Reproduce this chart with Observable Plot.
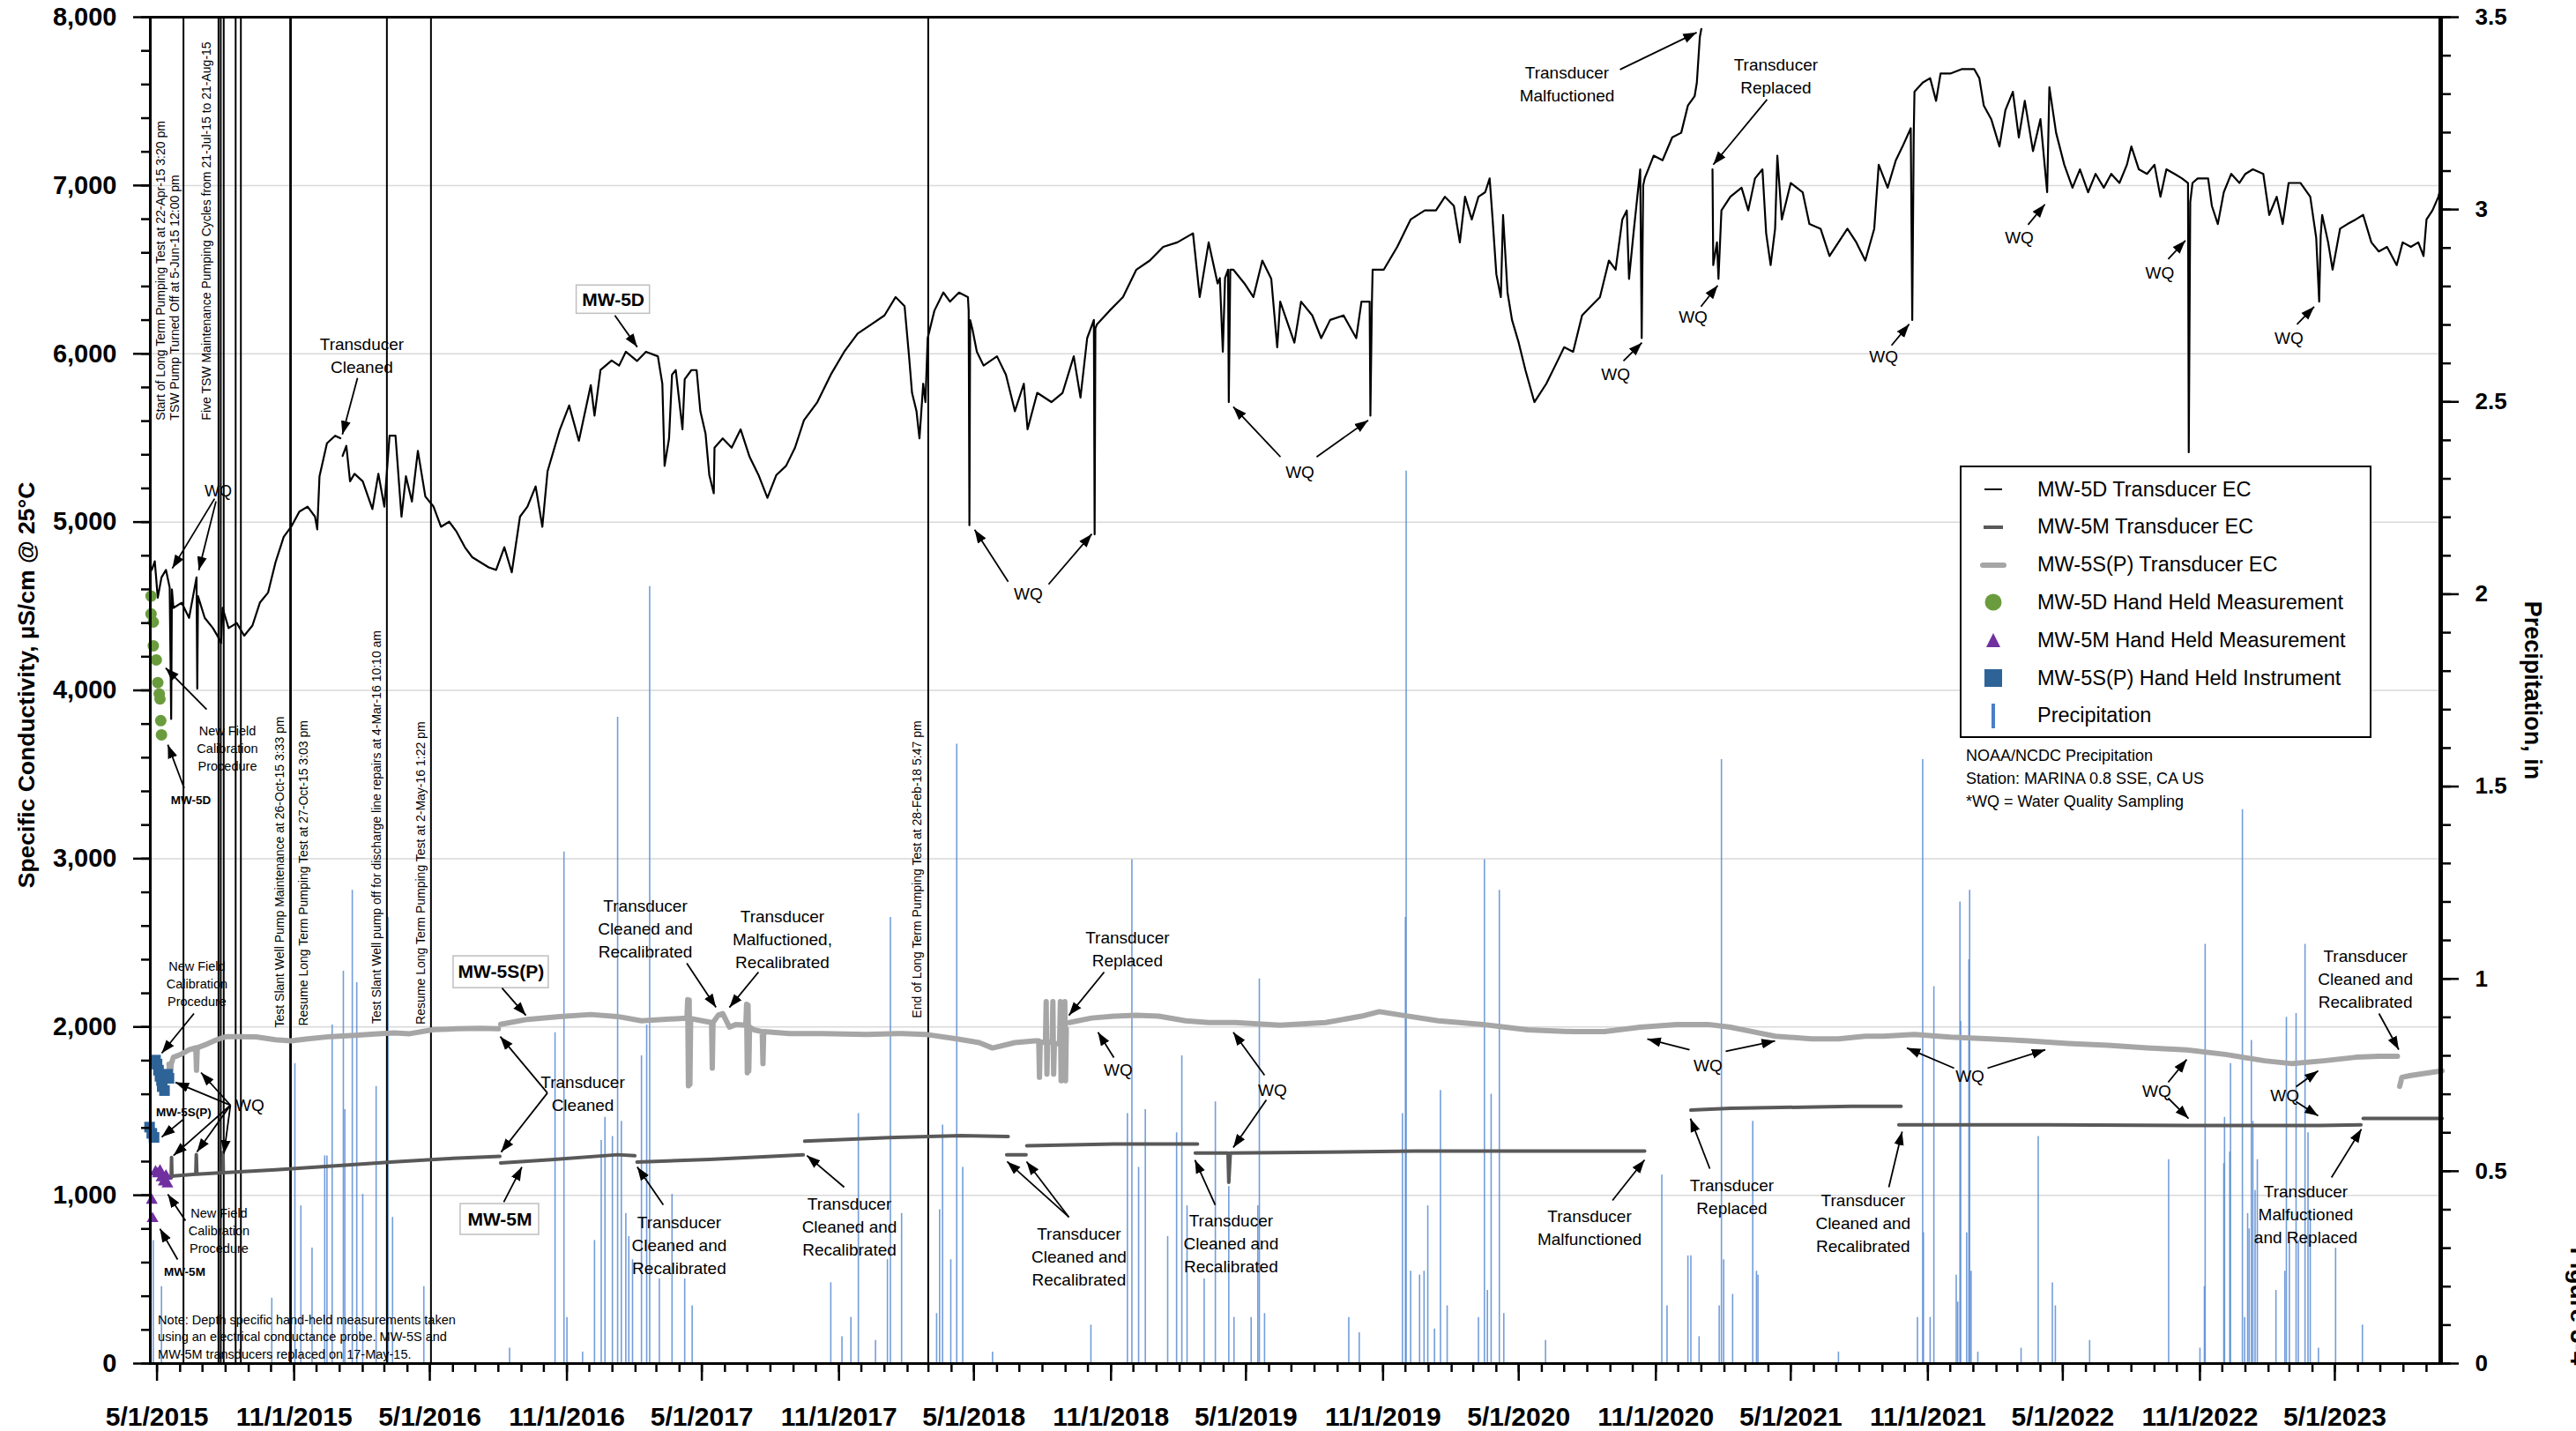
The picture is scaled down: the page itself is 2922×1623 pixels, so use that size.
<!DOCTYPE html>
<html><head><meta charset="utf-8">
<script src="https://cdn.jsdelivr.net/npm/d3@7"></script>
<script src="https://cdn.jsdelivr.net/npm/@observablehq/plot@0.6"></script>
<style>
body{margin:0;background:#fff;font-family:"Liberation Sans",Arial,sans-serif;}
#wrap{position:relative;width:2922px;height:1623px;overflow:hidden;background:#fff}
#legend{position:absolute;left:2223px;top:528px;width:463px;height:305px;border:2px solid #000;background:#fff;}
.row{position:absolute;left:0;height:43px;display:flex;align-items:center;font-size:23.5px;white-space:nowrap}
.sym{width:72px;height:43px;display:flex;justify-content:center;align-items:center}
.lbl{margin-left:14px}
#notes{position:absolute;left:2230px;top:844px;font-size:18px;line-height:26px;white-space:nowrap}
</style></head>
<body>
<div id="wrap"><div id="chart"></div><div id="legend"></div><div id="notes"></div></div>
<script>
// ---------- DATA (x = days since 1 May 2015) ----------
const mw5d = [
[-7,4716],[-3,4767],[1,4551],[6,4671],[12,4716],[17,4611],[19,3830],[20,4600],[22,4490],[33,4521],[43,4431],[48,4551],[53,4671],[54,4010],[55,4560],[64,4431],[75,4370],[83,4310],[86,4280],[88,4490],[96,4370],[107,4400],[117,4325],[128,4385],[138,4521],[149,4581],[159,4761],[170,4912],[180,4972],[191,5062],[202,5092],[212,5032],[215,4957],[218,5272],[228,5468],[239,5513],[246,5498],null,
[249,5393],[254,5453],[259,5242],[265,5287],[276,5242],[289,5077],[297,5287],[305,5092],[312,5513],[320,5513],[328,5032],[334,5272],[342,5122],[350,5423],[360,5152],[371,5092],[381,4972],[392,5002],[402,4942],[413,4851],[423,4791],[434,4761],[445,4731],[455,4716],[466,4851],[476,4701],[487,5032],[497,5092],[508,5212],[517,4972],[524,5302],[540,5543],[553,5693],[566,5483],[582,5814],[587,5633],[595,5904],[610,5960],[620,5930],
[629,6012],[644,5957],[656,6012],[672,5985],[678,5822],[681,5334],[687,5497],[691,5876],[696,5903],[705,5551],[708,5849],[717,5903],[724,5903],[729,5659],[736,5524],[741,5280],[747,5171],[748,5442],[759,5497],[771,5442],[783,5551],[795,5388],[807,5280],[819,5144],[831,5280],[844,5334],[856,5442],[868,5605],[886,5713],[904,5876],[922,6012],[940,6120],[958,6174],[976,6228],[991,6337],[1003,6283],[1009,5985],[1013,5768],[1019,5659],[1023,5497],[1028,5822],[1031,5713],[1034,6093],[1043,6256],[1055,6364],[1064,6310],[1076,6364],[1088,6337],[1089,6256],[1090,4981],[1091,6200],[1094,6147],[1100,6012],[1109,5930],[1127,5985],[1139,5876],[1151,5659],[1163,5822],[1168,5551],[1181,5768],[1200,5713],[1215,5768],[1230,5985],[1239,5740],[1248,6093],[1257,6201],[1258,4927],[1259,6150],[1261,6174],[1278,6256],[1296,6337],[1314,6500],[1332,6554],[1350,6635],[1369,6662],[1390,6716],[1399,6337],[1411,6662],[1423,6418],[1426,6450],[1430,6012],[1433,6450],[1437,6500],[1438,5713],[1440,6500],
[1444,6500],[1459,6418],[1471,6337],[1483,6554],[1495,6445],[1503,6039],[1507,6310],[1526,6066],[1535,6310],[1550,6228],[1562,6093],[1574,6201],[1592,6228],[1609,6093],[1616,6310],[1627,6310],[1628,5632],[1630,6300],[1631,6500],[1646,6500],[1664,6635],[1682,6798],[1701,6852],[1716,6852],[1728,6933],[1740,6879],[1748,6662],[1755,6933],[1764,6798],[1773,6933],[1782,6960],[1788,7042],[1792,6798],[1797,6472],[1803,6337],[1806,6825],[1812,6364],[1818,6201],[1827,6066],[1836,5903],[1848,5713],[1864,5822],[1876,5930],[1888,6039],[1900,6012],[1912,6228],[1924,6283],[1936,6337],[1948,6554],[1957,6500],[1966,6798],[1972,6852],[1975,6445],[1981,6716],[1990,7096],[1992,6093],[1994,7000],[1996,7042],[2008,7177],[2020,7150],[2033,7286],[2045,7313],[2054,7475],[2063,7530],[2066,7611],[2070,7882],[2072,7930],null,
[2087,7096],[2088,6527],[2093,6662],[2095,6445],[2099,6852],[2111,6933],[2126,6987],[2135,6852],[2144,7042],[2154,7096],[2159,6716],[2165,6527],[2171,6743],[2174,7177],[2180,6798],[2192,7015],[2208,6960],[2217,6771],[2232,6743],[2244,6581],[2256,6662],[2268,6743],[2280,6662],[2292,6554],[2304,6743],[2310,7123],[2322,6987],[2333,7150],
[2342,7232],[2353,7340],[2355,6201],[2357,7300],[2358,7557],[2369,7611],[2379,7638],[2387,7503],[2393,7665],[2406,7665],[2422,7692],[2438,7692],[2445,7638],[2451,7475],[2461,7394],[2472,7232],[2480,7448],[2490,7557],[2498,7286],[2506,7503],[2517,7204],[2527,7394],[2536,6960],[2539,7584],[2548,7313],[2559,7123],[2570,6987],[2580,7096],[2591,6960],[2601,7069],[2612,6987],[2622,7069],[2633,7015],[2643,7123],[2649,7232],[2659,7096],[2670,7069],[2680,7123],[2688,6933],[2696,7096],[2707,7069],[2717,7042],[2725,7015],[2726,5415],[2728,6900],[2731,7015],[2738,7042],[2752,7042],[2757,6879],[2765,6771],[2773,6960],[2783,7069],[2794,7015],[2802,7069],[2812,7096],[2826,7069],[2834,6825],[2844,6933],[2852,6771],[2860,7015],[2876,7015],[2889,6933],[2897,6689],[2901,6310],[2903,6700],[2905,6825],[2913,6662],[2919,6500],[2929,6743],[2939,6771],[2950,6798],[2960,6825],[2971,6662],[2981,6608],[2992,6635],[3005,6527],[3013,6662],[3024,6635],[3034,6662],[3041,6581],[3045,6798],[3053,6852],[3061,6933],[3065,7015]
];
const mw5s = [
[16,1779],[18,1682],[19,1780],[22,1820],[33,1839],[43,1864],[52,1876],[53,1743],[54,1876],[64,1893],[80,1924],[93,1943],[107,1943],[133,1941],[159,1924],[180,1917],[202,1929],[233,1943],[265,1950],[297,1960],[318,1965],[339,1960],[371,1984],[402,1989],[434,1992],[458,1989],null,
[461,2016],[497,2045],[540,2062],[582,2074],[618,2062],[650,2037],[711,2053],[712,2162],[713,1650],[714,2160],[715,1660],[716,2050],[744,2026],[745,1755],[746,2026],[753,2070],[759,2080],[768,1999],[777,2015],[790,2010],[791,2135],[792,1728],[793,2130],[794,1740],[795,2000],[801,1983],[812,1972],[813,1782],[814,1972],[849,1961],[892,1961],[952,1956],[1000,1961],[1031,1956],[1073,1929],[1103,1907],[1121,1875],[1151,1907],[1178,1918],[1183,1918],[1184,1701],[1185,1910],[1192,1910],[1193,2150],[1194,1720],[1195,1910],[1201,1910],[1202,2150],[1203,1720],[1204,1900],[1211,1900],[1212,2150],[1213,1680],[1214,1900],[1217,1900],[1218,2150],[1219,1680],[1220,1990],null,
[1224,2026],[1254,2053],[1284,2064],[1314,2070],[1344,2064],[1380,2037],[1411,2026],[1447,2026],[1507,2010],[1568,2026],[1616,2064],[1640,2091],[1670,2070],[1719,2037],[1779,2015],[1809,1999],[1839,1983],[1900,1972],[1942,1972],[1990,1999],[2039,2015],[2081,2015],[2111,1999],[2141,1972],[2171,1945],[2220,1929],[2256,1929],[2292,1945],[2316,1945],[2358,1956],[2406,1940],[2459,1929],[2511,1918],[2564,1902],[2617,1891],[2670,1875],[2723,1864],[2775,1837],[2828,1799],[2865,1782],[2907,1799],[2950,1820],[2981,1826],[3006,1826],null,
[3009,1647],[3012,1701],[3024,1712],[3066,1739]
];
const mw5m = [
[16,1103],[19,1103],[19.5,1224],[20,1110],[22,1115],[52,1125],[52.7,1241],[53.5,1125],[88,1134],[88.5,1255],[89,1134],[159,1151],[239,1175],[318,1199],[397,1219],[460,1231],null,
[461,1192],[529,1211],[618,1241],[641,1235],null,
[644,1197],[741,1213],[867,1240],null,
[869,1321],[982,1343],[1079,1354],[1142,1349],null,
[1140,1240],[1166,1240],null,
[1167,1294],[1284,1305],[1396,1305],null,
[1393,1251],[1437,1251],[1438,1077],[1440,1251],[1688,1262],[1996,1262],null,
[2058,1506],[2111,1517],[2273,1528],[2340,1528],null,
[2337,1419],[2538,1419],[2726,1414],[2902,1414],[2957,1419],null,
[2960,1457],[3066,1457]
];
const precip = [
[-5,0.32],[6,0.20],[154,0.17],[185,0.78],[193,0.41],[208,0.30],[225,0.54],[228,0.54],[235,0.88],[250,1.02],[252,0.66],[262,1.23],[268,0.99],[276,0.44],[294,0.72],[310,1.16],[316,0.38],[358,0.20],[473,0.04],
[534,0.86],[546,1.33],[550,0.12],[571,0.03],[587,0.32],[596,0.58],[601,0.64],[611,0.59],[618,1.68],[623,0.63],[629,0.39],[633,0.33],[638,0.27],[650,0.80],[657,0.88],[661,2.02],[674,0.22],[691,0.44],[708,0.22],[718,0.15],
[904,0.21],[919,0.07],[931,0.12],[941,0.65],[964,0.06],[980,0.27],[984,1.16],[999,0.39],[1035,0.15],[1046,0.13],[1050,0.40],[1054,0.62],[1065,0.27],[1073,1.61],[1081,0.51],[1121,0.03],[1253,0.10],
[1302,0.65],[1308,1.31],[1317,0.51],[1326,0.66],[1356,0.33],[1368,0.60],[1375,0.80],[1382,0.41],[1405,0.22],[1420,0.68],[1438,0.46],[1445,0.12],[1468,0.12],[1477,0.41],[1479,1.00],[1486,0.13],[1599,0.12],[1613,0.08],
[1671,0.65],[1675,1.16],[1676,2.32],[1682,0.24],[1694,0.23],[1700,0.24],[1705,0.41],[1714,0.09],[1722,0.71],[1731,0.15],[1773,0.12],[1781,1.31],[1785,0.19],[1790,0.70],[1801,1.23],[1807,0.13],[1863,0.06],
[2019,0.49],[2026,0.15],[2054,0.28],[2058,0.28],[2069,0.07],[2096,0.15],[2099,1.57],[2102,0.27],[2114,0.18],[2141,0.63],[2146,0.24],[2148,0.23],[2256,0.03],
[2362,0.12],[2369,1.57],[2370,0.34],[2379,0.12],[2384,0.98],[2414,0.23],[2416,0.16],[2419,1.20],[2420,0.89],[2428,0.34],[2431,1.05],[2432,1.23],[2434,0.24],[2443,0.03],[2501,0.04],[2524,0.59],[2543,0.21],[2547,0.15],[2593,0.06],
[2699,0.53],[2741,0.04],[2747,0.20],[2748,1.09],[2773,0.52],[2774,0.64],[2781,0.55],[2782,0.78],[2798,1.44],[2801,0.12],[2805,0.39],[2807,0.35],[2810,0.84],[2812,0.63],[2815,0.45],[2818,0.53],[2843,0.19],[2855,0.24],[2857,0.90],[2861,0.32],[2870,0.91],[2873,0.32],[2882,1.09],[2886,0.60],[2889,0.39],[2900,0.04],[2923,0.30],[2959,0.10]
];
const hand5d = [[-8,4560],[-8,4454],[-5,4406],[-5,4265],[-1,4181],[1,4046],[3,3979],[4,3949],[5,3820],[6,3736]];
const hand5m = [[-2,1139],[1,1127],[4,1144],[6,1103],[9,1079],[12,1115],[14,1067],[-7,970],[-6,861]];
const hand5s = [[-2,1803],[0,1779],[2,1743],[4,1707],[6,1682],[7,1646],[10,1622],[14,1719],[16,1695],[-10,1405],[-7,1368],[-4,1344]];

const eventTimes = ["2015-04-22T15:20Z","2015-06-05T12:00Z","2015-07-22T12:00Z","2015-07-25T12:00Z","2015-07-29T12:00Z","2015-08-14T12:00Z","2015-08-21T12:00Z","2015-10-26T15:33Z","2015-10-27T15:03Z","2016-03-04T10:10Z","2016-05-02T13:22Z","2018-02-28T17:47Z"];
const eventLabels = [
 [5.2,5605,"Start of Long Term Pumping Test at 22-Apr-15 3:20 pm"],
 [24.6,5605,"TSW Pump Turned Off at 5-Jun-15 12:00 pm"],
 [66.6,5605,"Five TSW Maintenance Pumping Cycles from 21-Jul-15 to 21-Aug-15"],
 [164.8,1996,"Test Slant Well Pump Maintenance at 26-Oct-15 3:33 pm"],
 [196.7,2006,"Resume Long Term Pumping Test at 27-Oct-15 3:03 pm"],
 [295,2019,"Test Slant Well pump off for discharge line repairs at 4-Mar-16 10:10 am"],
 [354,2015,"Resume Long Term Pumping Test at 2-May-16 1:22 pm"],
 [1020,2053,"End of Long Term Pumping Test at 28-Feb-18 5:47 pm"]
];
const annotations = [
 [82,5196,"WQ",18],[274.8,5998,"Transducer\nCleaned",19],[94.5,3661,"New Field\nCalibration\nProcedure",14.5],
 [571.2,1613,"Transducer\nCleaned",19],[53.6,2263,"New Field\nCalibration\nProcedure",14.5],[124.6,1545,"WQ",19],
 [83.2,796,"New Field\nCalibration\nProcedure",14.5],[655.2,2593,"Transducer\nCleaned and\nRecalibrated",19],
 [839,2530,"Transducer\nMalfuctioned,\nRecalibrated",19],[700.6,712,"Transducer\nCleaned and\nRecalibrated",19],
 [929,822,"Transducer\nCleaned and\nRecalibrated",19],[1169,4583,"WQ",19],[1302,2472,"Transducer\nReplaced",19],
 [1289.7,1755,"WQ",19],[1237,644,"Transducer\nCleaned and\nRecalibrated",19],[1441,723,"Transducer\nCleaned and\nRecalibrated",19],
 [1533.4,5306,"WQ",19],[1496.7,1634,"WQ",19],[1922,815,"Transducer\nMalfunctioned",19],[1957,5888,"WQ",19],
 [1891.8,7611,"Transducer\nMalfuctioned",19],[2172,7661,"Transducer\nReplaced",19],[2061,6228,"WQ",19],[2081,1781,"WQ",19],
 [2113,1000,"Transducer\nReplaced",19],[2289,843,"Transducer\nCleaned and\nRecalibrated",19],[2316.6,5992,"WQ",19],
 [2498.6,6699,"WQ",19],[2687.2,6490,"WQ",19],[2860.5,6102,"WQ",19],[2432.4,1718,"WQ",19],[2683,1629,"WQ",19],
 [2854.7,1603,"WQ",19],[2883,896,"Transducer\nMalfuctioned\nand Replaced",19],[2963,2294,"Transducer\nCleaned and\nRecalibrated",19]
];
const smallLabels = [[45.3,3347,"MW-5D"],[35.8,1493,"MW-5S(P)"],[37,545,"MW-5M"]];
const boxLabels = [[563,661.3,6238,6406,"MW-5D"],[397.8,525.5,2231,2420,"MW-5S(P)"],[407.3,512.6,765,948,"MW-5M"]];
const arrows = [
[77.2,5139,20.5,4725],[79.1,5123,56,4714],[269,5856,248.7,5521],[66.6,3887,11.6,4133],[36.4,3420,14.5,3677],
[523.8,1608,460.5,1943],[523.8,1608,461.7,1257],[49.6,2080,6.3,1844],[35.4,1451,6.3,1346],
[98.5,1535,24.7,1671],[98.5,1535,59.1,1729],[98.5,1535,22.1,1236],[98.5,1535,53.6,1257],[98.5,1535,89.8,1247],
[38.2,849,14.5,1006],[27.6,618,3.9,801],[614.3,6228,644.3,6040],[462.9,2231,494.9,2069],[465.2,959,489.5,1168],
[710.8,2378,750,2116],[807,2326,768,2116],[679.3,943,644.3,1168],[922,1048,872,1236],
[1142,4646,1097,4955],[1196.2,4630,1254.2,4929],[1270.8,2326,1223.5,2069],[1283.8,1818,1262.5,1969],
[1223.5,870,1140.6,1200],[1223.5,870,1166.7,1200],[1419.8,943,1392.6,1210],
[1507.4,5387,1444,5685],[1555.8,5387,1625,5605],[1486,1713,1444,1969],[1488.4,1566,1444,1283],
[1952.8,969,1995.9,1210],[1967.5,5957,1992.3,6066],[1962.9,7689,2065.8,7909],[2160.2,7511,2088,7124],
[2071.5,6280,2094,6406],[2056.2,1865,1999.5,1928],[2104.7,1855,2171,1917],[2083.4,1158,2057.4,1456],
[2323.6,1048,2341.4,1378],[2327.2,6050,2350.9,6176],[2510.4,6767,2533,6888],[2698.4,6563,2721.5,6673],
[2871.2,6175,2894.3,6280],[2411.2,1755,2347.8,1875],[2456,1755,2533.6,1865],[2698.4,1671,2723.3,1807],
[2698.4,1577,2725.7,1456],[2870,1645,2899.6,1739],[2870,1556,2899.6,1472],[2917.5,1105,2957.7,1393],[2981.2,2080,3007.8,1865]
];
const majorTicks = ["2015-05-01","2015-11-01","2016-05-01","2016-11-01","2017-05-01","2017-11-01","2018-05-01","2018-11-01","2019-05-01","2019-11-01","2020-05-01","2020-11-01","2021-05-01","2021-11-01","2022-05-01","2022-11-01","2023-05-01"];
const ecTicks = [0,1000,2000,3000,4000,5000,6000,7000,8000];
const precipTicks = [0,0.5,1,1.5,2,2.5,3,3.5];
const legendLabels = ["MW-5D Transducer EC","MW-5M Transducer EC","MW-5S(P) Transducer EC","MW-5D Hand Held Measurement","MW-5M Hand Held Measurement","MW-5S(P) Hand Held Instrument","Precipitation"];
const noteLines = ["NOAA/NCDC Precipitation","Station: MARINA 0.8 SSE, CA US","*WQ = Water Quality Sampling"];
const bottomNote = "Note: Depth specific hand-held measurements taken\nusing an electrical conductance probe. MW-5S and\nMW-5M transducers replaced on 17-May-15.";

// ---------- BUILD ----------
const base = Date.UTC(2015,4,1);
const toDate = d => new Date(base + d*864e5);
const K = 8000/3.5; // precipitation inches -> EC units on shared vertical scale
const toPts = arr => arr.map(p => p ? {x: toDate(p[0]), y: p[1]} : {x: toDate(0), y: NaN});
const xDomain = [new Date("2015-04-22"), new Date("2023-09-20")];
const minorX = d3.utcMonth.range(new Date("2015-05-01"), xDomain[1]);
const C5D = "#000000", C5M = "#595959", C5S = "#a6a6a6", CG = "#6a9c3d", CP = "#7030a0", CB = "#2e6398", CR = "#5b8cd3";
const FONT = "'Liberation Sans', Arial, sans-serif";

const chart = Plot.plot({
  width: 2922, height: 1623,
  marginLeft: 170, marginRight: 154, marginTop: 19, marginBottom: 77,
  style: {fontFamily: FONT, fontSize: "19px", background: "white", color: "black"},
  x: {type: "utc", domain: xDomain},
  y: {domain: [0, 8000]},
  marks: [
    Plot.ruleY(ecTicks.filter(v => v > 0 && v < 8000), {stroke: "#d9d9d9", strokeWidth: 1.5}),
    Plot.ruleX(precip, {x: d => toDate(d[0]), y1: 0, y2: d => d[1]*K, stroke: CR, strokeWidth: 1.6, strokeOpacity: 0.85}),
    Plot.ruleX(eventTimes, {x: d => new Date(d), stroke: "black", strokeWidth: 2}),
    Plot.text(eventLabels, {x: d => toDate(d[0]), y: d => d[1], text: d => d[2], rotate: -90, textAnchor: "start", fontSize: 14, fill: "black"}),
    Plot.line(toPts(mw5s), {x: "x", y: "y", stroke: C5S, strokeWidth: 6}),
    Plot.line(toPts(mw5m), {x: "x", y: "y", stroke: C5M, strokeWidth: 4}),
    Plot.line(toPts(mw5d), {x: "x", y: "y", stroke: C5D, strokeWidth: 2.2}),
    Plot.dot(hand5d, {x: d => toDate(d[0]), y: d => d[1], r: 6.5, fill: CG, stroke: "none"}),
    Plot.dot(hand5m, {x: d => toDate(d[0]), y: d => d[1], r: 5, symbol: "triangle", fill: CP, stroke: "none"}),
    Plot.dot(hand5s, {x: d => toDate(d[0]), y: d => d[1], r: 6.8, symbol: "square", fill: CB, stroke: "none"}),
    Plot.rect(boxLabels, {x1: d => toDate(d[0]), x2: d => toDate(d[1]), y1: d => d[2], y2: d => d[3], fill: "white", stroke: "#bfbfbf", strokeWidth: 1.5}),
    Plot.text(boxLabels, {x: d => toDate((d[0]+d[1])/2), y: d => (d[2]+d[3])/2, text: d => d[4], fontSize: 21, fontWeight: "bold"}),
    Plot.text(annotations, {x: d => toDate(d[0]), y: d => d[1], text: d => d[2], fontSize: d => d[3], lineHeight: 1.37, ariaLabel: "annot"}),
    Plot.text(smallLabels, {x: d => toDate(d[0]), y: d => d[1], text: d => d[2], fontSize: 13.5, fontWeight: "bold", ariaLabel: "annot"}),
    Plot.link(arrows, {x1: d => toDate(d[0]), y1: d => d[1], x2: d => toDate(d[2]), y2: d => d[3], stroke: "black", strokeWidth: 1.8, markerEnd: "arrow"}),
    Plot.text([bottomNote], {text: d => d, frameAnchor: "bottom-left", dx: 8.6, dy: -6, textAnchor: "start", lineAnchor: "bottom", fontSize: 14.5, lineHeight: 1.34}),
    Plot.frame({stroke: "black", strokeWidth: 3}),
    Plot.ruleX([xDomain[1]], {stroke: "black", strokeWidth: 5}),
    Plot.axisY({ticks: ecTicks, tickSize: 19, tickPadding: 19, tickFormat: d3.format(","), fontSize: 29, fontWeight: "bold", strokeWidth: 2.5, label: null}),
    Plot.axisY({ticks: d3.range(0, 8001, 200), tickSize: 10, tickFormat: () => "", strokeWidth: 2.5, label: null}),
    Plot.axisY({anchor: "right", ticks: precipTicks.map(v => v*K), tickSize: 20, tickPadding: 19, tickFormat: d => String(Math.round(d/K*10)/10), fontSize: 26, fontWeight: "bold", strokeWidth: 2.5, label: null}),
    Plot.axisY({anchor: "right", ticks: d3.range(0, 36).map(v => v/10*K), tickSize: 11, tickFormat: () => "", strokeWidth: 2.5, label: null}),
    Plot.axisX({ticks: majorTicks.map(s => new Date(s)), tickSize: 20, tickPadding: 29, tickFormat: d3.utcFormat("%-m/%-d/%Y"), fontSize: 30, fontWeight: "bold", strokeWidth: 2.5, label: null}),
    Plot.axisX({ticks: minorX, tickSize: 10, tickFormat: () => "", strokeWidth: 2.5, label: null}),
    Plot.text(["Specific Conductivity, µS/cm @ 25°C"], {text: d => d, frameAnchor: "left", dx: -140, dy: -6, rotate: -90, textAnchor: "middle", fontSize: 26.5, fontWeight: "bold"}),
    Plot.text(["Precipitation, in"], {text: d => d, frameAnchor: "right", dx: 104, rotate: 90, textAnchor: "middle", fontSize: 27, fontWeight: "bold"}),
    Plot.text(["Figure 3-4"], {text: d => d, frameAnchor: "bottom-right", dx: 147, dy: -65, rotate: 90, textAnchor: "middle", fontSize: 28, fontWeight: "bold"})
  ]
});
document.getElementById("chart").appendChild(chart);

// white boxes behind annotation labels
const ns = "http://www.w3.org/2000/svg";
chart.querySelectorAll('g[aria-label="annot"] text').forEach(t => {
  const b = t.getBBox();
  const r = document.createElementNS(ns, "rect");
  r.setAttribute("x", b.x - 3); r.setAttribute("y", b.y - 1);
  r.setAttribute("width", b.width + 6); r.setAttribute("height", b.height + 2);
  r.setAttribute("fill", "white");
  if (t.getAttribute("transform")) r.setAttribute("transform", t.getAttribute("transform"));
  t.parentNode.insertBefore(r, t);
});
// filled arrow heads
chart.querySelectorAll("marker").forEach(m => {
  m.setAttribute("viewBox", "-10 -5 10 10");
  m.setAttribute("markerWidth", 8.5); m.setAttribute("markerHeight", 8.5);
  m.setAttribute("fill", "black"); m.setAttribute("stroke", "none");
  while (m.firstChild) m.removeChild(m.firstChild);
  const p = document.createElementNS(ns, "path");
  p.setAttribute("d", "M-10,-3.6L0,0L-10,3.6Z");
  m.appendChild(p);
});

// legend
const symbols = [
  `<svg width="24" height="10"><line x1="2" y1="5" x2="22" y2="5" stroke="${C5D}" stroke-width="2"/></svg>`,
  `<svg width="26" height="10"><line x1="2" y1="5" x2="24" y2="5" stroke="${C5M}" stroke-width="4"/></svg>`,
  `<svg width="30" height="12"><line x1="3" y1="6" x2="27" y2="6" stroke="${C5S}" stroke-width="6" stroke-linecap="round"/></svg>`,
  `<svg width="22" height="22"><circle cx="11" cy="11" r="9.5" fill="${CG}"/></svg>`,
  `<svg width="22" height="20"><path d="M11,2L19,18L3,18Z" fill="${CP}"/></svg>`,
  `<svg width="22" height="22"><rect x="1" y="1" width="20" height="20" fill="${CB}"/></svg>`,
  `<svg width="8" height="32"><rect x="2" y="2" width="4" height="28" fill="#4a7fc8"/></svg>`
];
const lg = document.getElementById("legend");
legendLabels.forEach((lab, i) => {
  const row = document.createElement("div");
  row.className = "row";
  row.style.top = (3.5 + 42.8*i) + "px";
  row.innerHTML = `<div class="sym">${symbols[i]}</div><div class="lbl">${lab}</div>`;
  lg.appendChild(row);
});
document.getElementById("notes").innerHTML = noteLines.join("<br>");
</script>
</body></html>
